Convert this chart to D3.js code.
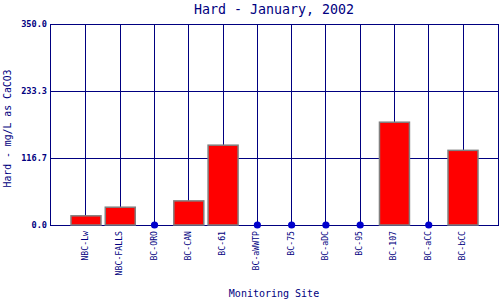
<!DOCTYPE html>
<html><head><meta charset="utf-8">
<script src="https://cdn.jsdelivr.net/npm/d3@7"></script>
<style>body{margin:0;background:#fff}svg{display:block}</style>
</head><body>
<svg id="c" width="500" height="300"></svg>
<script>
const categories = ["NBC-Lw","NBC-FALLS","BC-ORO","BC-CAN","BC-61","BC-aWWTP","BC-75","BC-aDC","BC-95","BC-107","BC-aCC","BC-bCC"];
const values = [16, 31, 0, 42, 139, 0, 0, 0, 0, 179, 0, 130];
const yTicks = [0, 116.7, 233.3, 350];
const title = "Hard - January, 2002";
const xTitle = "Monitoring Site";
const yTitle = "Hard - mg/L as CaCO3";

const navy = "#000080";
const svg = d3.select("#c");
const L = 50, R = 499, T = 24, B = 225;
const x = d3.scalePoint().domain(categories).range([L, R]).padding(1.05);
const y = d3.scaleLinear().domain([0, 350]).range([B, T]);
const bw = x.step() * 0.875;
const mono = "'DejaVu Sans Mono', monospace";

// grid
svg.append("g").selectAll("line").data(categories).join("line")
  .attr("x1", d => x(d)).attr("x2", d => x(d)).attr("y1", T).attr("y2", B)
  .attr("stroke", navy).attr("stroke-width", 1).attr("shape-rendering","crispEdges");
svg.append("g").selectAll("line").data(yTicks).join("line")
  .attr("x1", L).attr("x2", R).attr("y1", d => Math.round(y(d))+0.5).attr("y2", d => Math.round(y(d))+0.5)
  .attr("stroke", navy).attr("stroke-width", 1);
svg.append("rect").attr("x", L+0.5).attr("y", T+0.5).attr("width", R-L-1).attr("height", B-T)
  .attr("fill","none").attr("stroke", navy).attr("stroke-width",1);

// bars
const barData = categories.map((c,i)=>({c, v: values[i]}));
svg.append("g").selectAll("rect").data(barData.filter(d=>d.v>0)).join("rect")
  .attr("x", d => x(d.c) - bw/2).attr("width", bw)
  .attr("y", d => y(d.v)).attr("height", d => B - y(d.v))
  .attr("fill", "#ff0000").attr("stroke", "#808080").attr("stroke-width", 1.5);
// zero points
svg.append("g").selectAll("circle").data(barData.filter(d=>d.v===0)).join("circle")
  .attr("cx", d => x(d.c)).attr("cy", d => y(d.v)).attr("r", 3.6)
  .attr("fill", "#0000cc");

// y tick labels
svg.append("g").selectAll("text").data(yTicks).join("text")
  .attr("x", L-3).attr("y", d => y(d)+3)
  .attr("text-anchor","end").attr("font-family", mono).attr("font-size", 8.6)
  .attr("font-weight","bold").attr("fill", navy).text(d => d.toFixed(1));

// x tick labels
svg.append("g").selectAll("text").data(categories).join("text")
  .attr("transform", d => `translate(${x(d)+2},${B+6}) rotate(-90)`)
  .attr("text-anchor","end").attr("font-family", mono).attr("font-size", 8.2)
  .attr("fill", navy).text(d => d);

// titles
svg.append("text").attr("x", 274).attr("y", 14).attr("text-anchor","middle")
  .attr("font-family", mono).attr("font-size", 13.3).attr("fill", navy).text(title);
svg.append("text").attr("x", 274).attr("y", 297).attr("text-anchor","middle")
  .attr("font-family", mono).attr("font-size", 10).attr("fill", navy).text(xTitle);
svg.append("text").attr("transform", `translate(11,${(T+B)/2+4}) rotate(-90)`).attr("text-anchor","middle")
  .attr("font-family", mono).attr("font-size", 9.8).attr("fill", navy).text(yTitle);
</script>
</body></html>
